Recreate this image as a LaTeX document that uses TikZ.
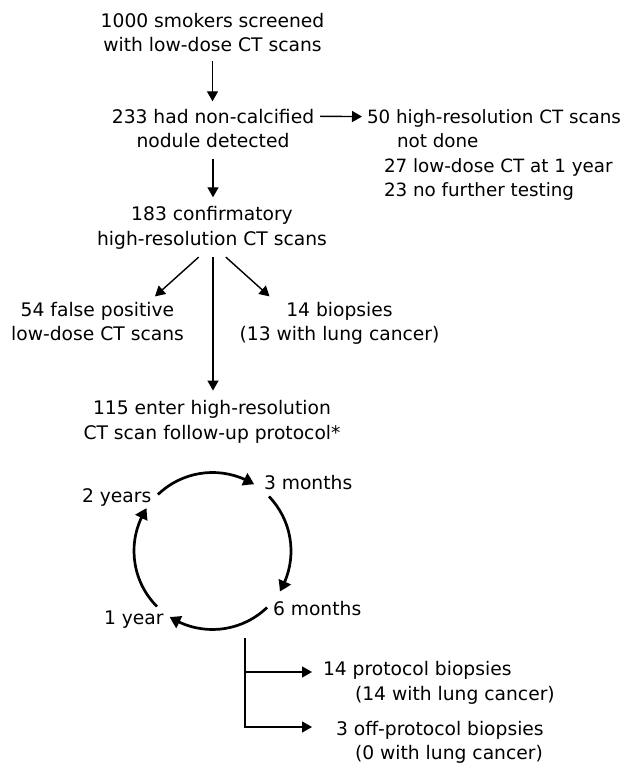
\documentclass[tikz,border=0pt]{standalone}
\usepackage{fontspec}
\setmainfont{DejaVu Sans}
\usetikzlibrary{arrows.meta,bending}
\begin{document}
\begin{tikzpicture}[x=1pt,y=1pt,
  txt/.style={inner sep=0pt,outer sep=0pt,align=center,font=\fontsize{18.7}{24.5}\selectfont},
  txtl/.style={inner sep=0pt,outer sep=0pt,align=left,font=\fontsize{18.7}{24.5}\selectfont},
  arr/.style={line width=1.4pt,-{Triangle[length=10pt,width=11pt]}},
  carr/.style={line width=2.7pt,-{Triangle[length=11pt,width=13pt,bend]}}]
\useasboundingbox (0,0) rectangle (622,-765);
% nodes (base = baseline of the last line)
\node[txt,anchor=base] (n1) at (212.5,-52) {1000 smokers screened\\with low-dose CT scans};
\node[txt,anchor=base] (n2) at (213,-147.5) {233 had non-calcified\\nodule detected};
\node[txtl,anchor=base west,font=\fontsize{18.3}{24.5}\selectfont] (n3) at (367,-196.5) {50 high-resolution CT scans\\\hspace*{30pt}not done\\\hspace*{17pt}27 low-dose CT at 1 year\\\hspace*{17pt}23 no further testing};
\node[txt,anchor=base] (c) at (212,-245) {183 confirmatory\\high-resolution CT scans};
\node[txt,anchor=base] (fp) at (97.5,-340.5) {54 false positive\\low-dose CT scans};
\node[txt,anchor=base] (bx) at (339.5,-340.5) {14 biopsies\\(13 with lung cancer)};
\node[txt,anchor=base] (fu) at (212,-439) {115 enter high-resolution\\CT scan follow-up protocol*};
\node[txtl,anchor=base west] (m3) at (264,-489) {3 months};
\node[txtl,anchor=base west] (y2) at (82,-502) {2 years};
\node[txtl,anchor=base west] (m6) at (273,-615.5) {6 months};
\node[txtl,anchor=base west] (y1) at (104,-624) {1 year};
\node[txtl,anchor=base west] (pb) at (323,-700) {14 protocol biopsies\\\hspace*{32pt}(14 with lung cancer)};
\node[txtl,anchor=base west] (ob) at (336,-759.5) {3 off-protocol biopsies\\\hspace*{19pt}(0 with lung cancer)};
% connectors
\draw[arr] ([yshift=-9pt]n1.south) -- ([yshift=7.5pt]n1.south |- n2.north);
\draw[arr] ([shift={(6pt,-7.5pt)}]n2.north east) -- ([shift={(-5pt,-7.5pt)}]n3.north west);
\draw[arr] ([yshift=-11pt]n2.south) -- ([yshift=9pt]n2.south |- c.north);
\draw[arr] ([shift={(-13.3pt,-8.2pt)}]c.south) -- ([shift={(57.5pt,5.4pt)}]fp.north);
\draw[arr] ([shift={(13.8pt,-8.2pt)}]c.south) -- ([shift={(-70pt,5.4pt)}]bx.north);
\draw[arr] ([shift={(1pt,-8.2pt)}]c.south) -- ([shift={(1pt,9.7pt)}]c.south |- fu.north);
% cycle
\coordinate (cc) at (212.5,-551);
\draw[carr] ([shift={(134:78.5pt)}]cc) arc[start angle=134,end angle=58,radius=78.5pt];
\draw[carr] ([shift={(44:78.5pt)}]cc) arc[start angle=44,end angle=-31,radius=78.5pt];
\draw[carr] ([shift={(-46:78.5pt)}]cc) arc[start angle=-46,end angle=-123,radius=78.5pt];
\draw[carr] ([shift={(-135:78.5pt)}]cc) arc[start angle=-135,end angle=-213,radius=78.5pt];
% branches
\coordinate (br) at (245,-638);
\draw[arr] (br) |- ([shift={(-11pt,28pt)}]pb.base west);
\draw[arr] (br) |- ([shift={(-24pt,32.5pt)}]ob.base west);
\end{tikzpicture}
\end{document}
